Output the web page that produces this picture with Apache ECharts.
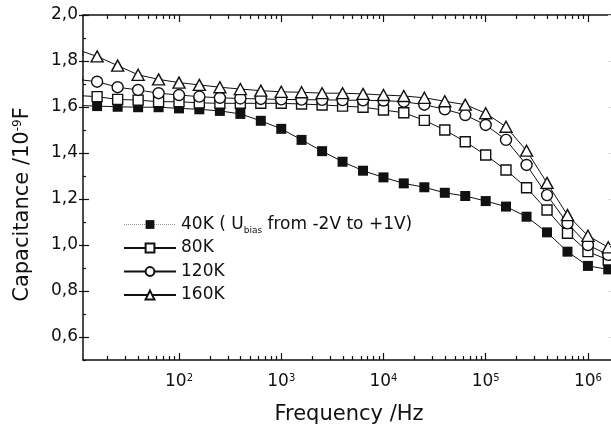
<!DOCTYPE html>
<html>
<head>
<meta charset="utf-8">
<script src="https://cdn.jsdelivr.net/npm/echarts@6/dist/echarts.min.js"></script>
<style>
  html, body { margin: 0; padding: 0; background: #fff; }
  #chart { width: 611px; height: 425px; }
</style>
</head>
<body>
<div id="chart"></div>
<script>
// frequency points (Hz), 5 per decade
const freq = [10, 15.8, 25.1, 39.8, 63.1, 100, 158, 251, 398, 631, 1000, 1580, 2510, 3980, 6310,
  10000, 15800, 25100, 39800, 63100, 100000, 158000, 251000, 398000, 631000, 1000000, 1580000]

// capacitance in 1e-9 F
const cap40 = [1.607, 1.604, 1.601, 1.599, 1.599, 1.594, 1.590, 1.583, 1.570, 1.540, 1.505, 1.457, 1.408, 1.362,
  1.323, 1.294, 1.268, 1.251, 1.227, 1.213, 1.191, 1.167, 1.123, 1.055, 0.971, 0.909, 0.894]
const cap80 = [1.650, 1.645, 1.633, 1.630, 1.623, 1.623, 1.618, 1.616, 1.616, 1.616, 1.616, 1.613, 1.609, 1.604,
  1.599, 1.587, 1.575, 1.542, 1.500, 1.449, 1.391, 1.326, 1.249, 1.152, 1.051, 0.971, 0.935]
const cap120 = [1.720, 1.710, 1.686, 1.674, 1.660, 1.652, 1.645, 1.640, 1.637, 1.635, 1.633, 1.632, 1.631, 1.630,
  1.629, 1.628, 1.623, 1.610, 1.590, 1.565, 1.522, 1.457, 1.348, 1.217, 1.094, 1.000, 0.957]
const cap160 = [1.850, 1.820, 1.780, 1.740, 1.720, 1.706, 1.696, 1.686, 1.678, 1.671, 1.666, 1.664, 1.660, 1.660,
  1.657, 1.652, 1.648, 1.640, 1.625, 1.610, 1.573, 1.514, 1.410, 1.270, 1.130, 1.040, 0.990]

const seriesNames = ['40K', '80K', '120K', '160K']
const xMajor = [100, 1000, 10000, 100000, 1000000]
const xMinor = [20, 30, 40, 50, 60, 70, 80, 90, 200, 300, 400, 500, 600, 700, 800, 900,
  2000, 3000, 4000, 5000, 6000, 7000, 8000, 9000, 20000, 30000, 40000, 50000, 60000, 70000, 80000, 90000,
  200000, 300000, 400000, 500000, 600000, 700000, 800000, 900000]
const yMajor = [0.6, 0.8, 1.0, 1.2, 1.4, 1.6, 1.8, 2.0]
const yMinor = [0.5, 0.7, 0.9, 1.1, 1.3, 1.5, 1.7, 1.9]

const font = 'DejaVu Sans'
const black = '#111'

const chart = echarts.init(document.getElementById('chart'))

const xBase = (position, ticks, len, extra) => Object.assign({
  type: 'log',
  position: position,
  min: 11.5,
  max: 1840000,
  z: 10,
  axisLine: { show: false },
  splitLine: { show: false },
  axisLabel: { show: false },
  axisTick: { show: true, inside: true, length: len, customValues: ticks, lineStyle: { color: black, width: 1.2 } }
}, extra || {})

const yBase = (position, ticks, len, inside, extra) => Object.assign({
  type: 'value',
  position: position,
  min: 0.5,
  max: 2.0,
  z: 10,
  axisLine: { show: false },
  splitLine: { show: false },
  axisLabel: { show: false },
  axisTick: { show: true, inside: inside, length: len, customValues: ticks, lineStyle: { color: black, width: 1.2 } }
}, extra || {})

const xAxis = [
  xBase('bottom', xMajor, 7, {
    axisLine: { show: true, onZero: false, lineStyle: { color: black, width: 1.5 } },
    axisLabel: {
      show: true,
      customValues: xMajor,
      margin: 13,
      fontFamily: font,
      fontSize: 17,
      color: black,
      formatter: (v) => '10{sup|' + Math.round(Math.log10(v)) + '}',
      rich: { sup: { fontFamily: font, fontSize: 10, color: black, verticalAlign: 'top', lineHeight: 10 } }
    },
    name: 'Frequency /Hz',
    nameLocation: 'middle',
    nameGap: 44,
    nameTextStyle: { fontFamily: font, fontSize: 21, color: black }
  }),
  xBase('bottom', xMinor, 4),
  xBase('top', xMajor, 7, { axisLine: { show: true, onZero: false, lineStyle: { color: black, width: 1.5 } } }),
  xBase('top', xMinor, 4)
]

const yAxis = [
  yBase('left', yMajor, 4, false, {
    axisLine: { show: true, onZero: false, lineStyle: { color: black, width: 1.5 } },
    axisLabel: {
      show: true,
      customValues: yMajor,
      margin: 5,
      fontFamily: font,
      fontSize: 17,
      color: black,
      formatter: (v) => v.toFixed(1).replace('.', ',')
    },
    name: 'Capacitance /10{sup|-9}F',
    nameLocation: 'middle',
    nameGap: 50,
    nameTextStyle: {
      fontFamily: font,
      fontSize: 21,
      color: black,
      padding: [0, 34, 0, 0],
      rich: { sup: { fontFamily: font, fontSize: 12, color: black, verticalAlign: 'top', lineHeight: 12 } }
    }
  }),
  yBase('left', yMajor, 6, true),
  yBase('left', yMinor, 3, true),
  yBase('right', yMajor, 7, true, {
    axisTick: { show: true, inside: true, length: 7, customValues: yMajor, lineStyle: { color: '#ddd', width: 1 } }
  })
]
xAxis.forEach((a) => { a.gridIndex = 0 })
yAxis.forEach((a) => { a.gridIndex = 0 })

const makeSeries = (name, values, symbol, size, fill) => ({
  name: name,
  type: 'line',
  xAxisIndex: 0,
  yAxisIndex: 0,
  clip: false,
  z: 2,
  symbol: symbol,
  symbolSize: size,
  showAllSymbol: true,
  lineStyle: { color: black, width: 1 },
  itemStyle: { color: fill, borderColor: black, borderWidth: fill === black ? 0 : 1.4 },
  emphasis: { disabled: true },
  data: freq.map((f, i) => [f, values[i]])
})

const option = {
  animation: false,
  backgroundColor: '#fff',
  grid: { left: 83, right: -4, top: 15, bottom: 65, outerBoundsMode: 'none', containLabel: false },
  xAxis: xAxis,
  yAxis: yAxis,
  legend: {
    orient: 'vertical',
    left: 118,
    top: 209,
    itemWidth: 52,
    itemHeight: 11,
    itemGap: 2.5,
    selectedMode: false,
    textStyle: {
      fontFamily: font,
      fontSize: 17,
      color: black,
      lineHeight: 21,
      rich: {
        sub: { fontFamily: font, fontSize: 9, color: black, verticalAlign: 'bottom', lineHeight: 6 }
      }
    },
    formatter: (n) => n === '40K' ? '40K ( U{sub|bias} from -2V to +1V)' : n,
    data: [
      { name: '40K', lineStyle: { color: '#999', type: 'dotted', width: 1 } },
      { name: '80K' },
      { name: '120K' },
      { name: '160K' }
    ]
  },
  // white mask so the first (10 Hz) markers look cut at the left frame
  graphic: [{
    type: 'rect',
    z: 5,
    shape: { x: 0, y: 0, width: 82.3, height: 425 },
    style: { fill: '#fff' },
    silent: true
  }],
  series: [
    makeSeries(seriesNames[0], cap40, 'rect', 10, black),
    makeSeries(seriesNames[1], cap80, 'rect', 10, '#fff'),
    makeSeries(seriesNames[2], cap120, 'circle', 11, '#fff'),
    makeSeries(seriesNames[3], cap160, 'triangle', [12, 11], '#fff')
  ]
}

chart.setOption(option)
</script>
</body>
</html>
